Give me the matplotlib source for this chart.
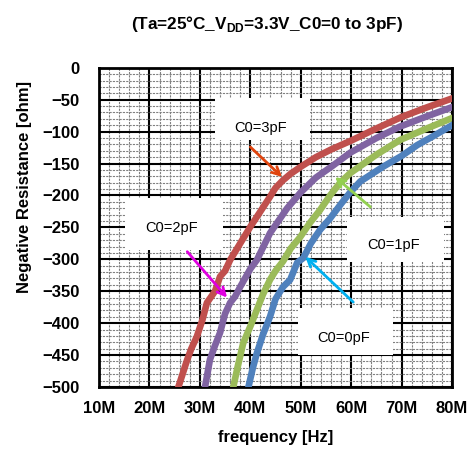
import matplotlib
matplotlib.use('Agg')
from matplotlib import pyplot as plt
from matplotlib.patches import Rectangle
from matplotlib.ticker import MultipleLocator
import numpy as np

plt.rcParams['font.family'] = ['Liberation Sans', 'DejaVu Sans']
plt.rcParams['mathtext.fontset'] = 'custom'
plt.rcParams['mathtext.rm'] = 'Liberation Sans:bold'
plt.rcParams['mathtext.bf'] = 'Liberation Sans:bold'

# frequency in MHz, negative resistance in ohm
f_3pF = [25.7, 27.5, 28.3, 29.4, 30.5, 31.4, 33.0, 34.0, 35.0, 36.0, 38.0, 40.0,
         42.0, 43.9, 45.0, 46.5, 48.0, 50.0, 53.0, 56.0, 60.0, 65.0, 70.0, 75.0, 80.0]
r_3pF = [-501, -457, -440, -421, -395, -368, -350, -327, -318, -301, -275, -249,
         -225, -202, -188, -176, -166, -155, -140, -128, -114, -95, -77, -62, -48]

f_2pF = [31.0, 32.0, 33.0, 34.0, 35.0, 36.0, 37.0, 38.0, 40.0, 41.3, 43.9, 47.3,
         50.0, 53.0, 56.4, 59.8, 65.0, 69.7, 75.0, 80.2]
r_2pF = [-501, -457, -435, -415, -385, -368, -358, -343, -315, -301, -259, -220,
         -195, -172, -153, -133, -110, -92, -76, -61]

f_1pF = [36.6, 37.5, 38.6, 40.0, 41.3, 42.5, 43.9, 45.0, 46.5, 48.0, 49.9, 51.8,
         53.8, 55.8, 57.8, 59.8, 65.0, 69.7, 75.0, 80.2]
r_1pF = [-501, -468, -431, -405, -379, -355, -332, -318, -303, -283, -265, -243,
         -223, -200, -180, -165, -136, -113, -95, -78]

f_0pF = [39.6, 40.5, 41.3, 42.5, 43.9, 45.0, 46.5, 47.9, 49.3, 50.5, 52.0, 53.8,
         55.8, 57.8, 59.8, 61.8, 66.3, 70.0, 73.1, 76.5, 80.2]
r_0pF = [-501, -470, -447, -418, -390, -362, -343, -332, -305, -298, -275, -254,
         -236, -215, -195, -178, -155, -138, -121, -106, -89]

xticks = [10, 20, 30, 40, 50, 60, 70, 80]
xticklabels = ['10M', '20M', '30M', '40M', '50M', '60M', '70M', '80M']

fig = plt.figure(figsize=(4.69, 4.49), dpi=100)
ax = fig.add_axes([0.211, 0.138, 0.753, 0.711])

ax.plot(f_3pF, r_3pF, c='#C0504D', lw=4.8, zorder=5)
ax.plot(f_2pF, r_2pF, c='#8064A2', lw=4.8, zorder=5)
ax.plot(f_1pF, r_1pF, c='#9BBB59', lw=4.8, zorder=5)
ax.plot(f_0pF, r_0pF, c='#4F81BD', lw=4.8, zorder=5)

ax.set_xlim(10, 80)
ax.set_ylim(-500, 0)
ax.set_xticks(xticks)
ax.set_xticklabels(xticklabels)
ax.yaxis.set_major_locator(MultipleLocator(50))
ax.xaxis.set_minor_locator(MultipleLocator(2))
ax.yaxis.set_minor_locator(MultipleLocator(10))
ax.grid(which='major', color='black', lw=1.5, zorder=1)
ax.grid(which='minor', color='#808080', lw=0.8, ls=(0, (2, 1)), zorder=0)
ax.set_axisbelow(True)
ax.tick_params(which='both', length=0)
ax.tick_params(axis='x', pad=10)
ax.tick_params(axis='y', pad=14)
for lab in ax.get_xticklabels() + ax.get_yticklabels():
    lab.set_fontsize(12)
    lab.set_fontweight('bold')
for s in ax.spines.values():
    s.set_linewidth(2)

ax.set_xlabel('frequency [Hz]', fontsize=12, fontweight='bold', labelpad=10)
ax.set_ylabel('Negative Resistance [ohm]', fontsize=12, fontweight='bold')
ax.yaxis.set_label_coords(-0.19, 0.627)
fig.text(0.57, 0.947, r'(Ta=25°C_V$_{\mathbf{DD}}$=3.3V_C0=0 to 3pF)',
         ha='center', va='center', fontsize=12.3, fontweight='bold')

# label boxes: (x0, x1, y0, y1, text x, text y, label)
boxes = [(33.0, 51.9, -113, -47, 42.1, -94, 'C0=3pF'),
         (15.2, 34.6, -285, -204, 24.3, -251, 'C0=2pF'),
         (59.2, 78.3, -304, -234, 68.3, -277, 'C0=1pF'),
         (49.5, 68.3, -450, -376, 58.4, -423, 'C0=0pF')]
for x0, x1, y0, y1, tx, ty, t in boxes:
    ax.add_patch(Rectangle((x0, y0), x1 - x0, y1 - y0, fc='white', ec='none', zorder=3))
    ax.text(tx, ty, t, ha='center', va='center', fontsize=10.5, zorder=4)

arrows = [((40.0, -124), (46.3, -171), '#E0440E'),
          ((27.5, -288), (35.4, -360), '#E000E0'),
          ((63.8, -218), (56.8, -171), '#92D050'),
          ((60.4, -367), (50.9, -296), '#00B0F0')]
for start, end, col in arrows:
    ax.annotate('', xy=end, xytext=start, zorder=6,
                arrowprops=dict(arrowstyle='->', color=col, lw=2, mutation_scale=14,
                                shrinkA=0, shrinkB=0))

plt.savefig('out.png', dpi=100)
